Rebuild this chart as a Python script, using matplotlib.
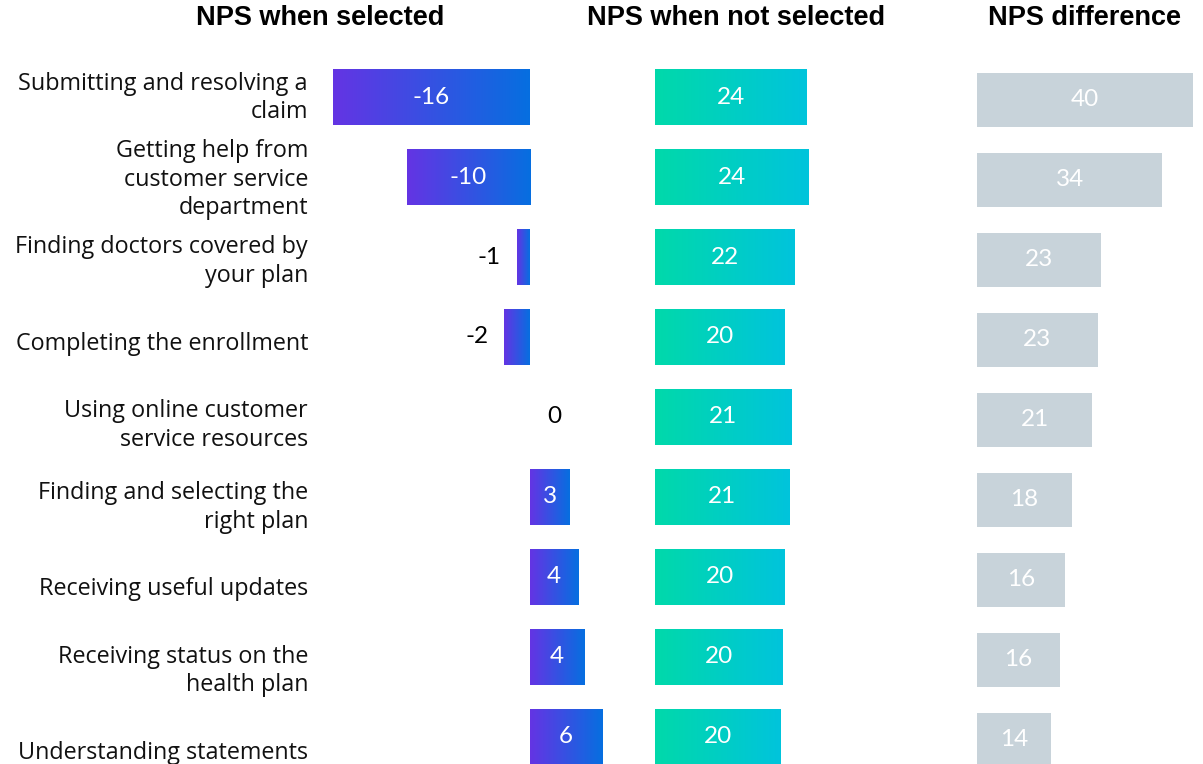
import matplotlib
matplotlib.use("Agg")
import matplotlib.pyplot as plt
import numpy as np
from matplotlib.transforms import blended_transform_factory
from matplotlib.colors import LinearSegmentedColormap

# Data
categories = [
    "Submitting and resolving a\nclaim",
    "Getting help from\ncustomer service\ndepartment",
    "Finding doctors covered by\nyour plan",
    "Completing the enrollment",
    "Using online customer\nservice resources",
    "Finding and selecting the\nright plan",
    "Receiving useful updates",
    "Receiving status on the\nhealth plan",
    "Understanding statements",
]
nps_selected = [-16.0, -10.0, -1.05, -2.1, 0.0, 3.2, 3.9, 4.4, 5.85]
nps_not_selected = [24.0, 24.4, 22.2, 20.5, 21.6, 21.3, 20.6, 20.3, 20.0]
nps_difference = [40.0, 34.3, 23.0, 22.4, 21.3, 17.6, 16.3, 15.4, 13.7]

selected_labels = ["-16", "-10", "-1", "-2", "0", "3", "4", "4", "6"]
not_selected_labels = ["24", "24", "22", "20", "21", "21", "20", "20", "20"]
difference_labels = ["40", "34", "23", "23", "21", "18", "16", "16", "14"]

titles = ["NPS when selected", "NPS when not selected", "NPS difference"]

W, H = 1203, 764
fig = plt.figure(figsize=(W / 100, H / 100), dpi=100)

label_font = ["Open Sans", "DejaVu Sans"]
value_font = ["Lato", "DejaVu Sans"]
title_font = ["Liberation Sans Narrow", "Liberation Sans", "DejaVu Sans"]
value_size = 17.5

row_ylim = ((H - 97) / 80, -97 / 80)
y = np.arange(len(categories))


def make_axes(x0, x1, xlim):
    ax = fig.add_axes([x0 / W, 0, (x1 - x0) / W, 1])
    ax.set_xlim(*xlim)
    ax.set_ylim(*row_ylim)
    ax.axis("off")
    return ax


def gradient_bars(ax, bars, c0, c1):
    # paint each bar with a left-to-right colour gradient
    cmap = LinearSegmentedColormap.from_list("g", [c0, c1])
    grad = np.linspace(0, 1, 256).reshape(1, -1)
    for bar in bars:
        w = bar.get_width()
        if w == 0:
            continue
        x0 = bar.get_x()
        y0 = bar.get_y()
        h = bar.get_height()
        left, right = min(x0, x0 + w), max(x0, x0 + w)
        ax.imshow(grad, cmap=cmap, aspect="auto", extent=(left, right, y0 + h, y0),
                  zorder=3, interpolation="bicubic")
        bar.set_visible(False)


# Left panel: NPS when selected
xlim1 = (-210 / 12.31, 90 / 12.31)
ax1 = make_axes(320, 620, xlim1)
bars1 = ax1.barh(y, nps_selected, height=0.69, color="#6236e3")
gradient_bars(ax1, bars1, "#6434e4", "#066fe0")
ax1.set_xlim(*xlim1)
ax1.set_ylim(*row_ylim)
for yi, v, lab in zip(y, nps_selected, selected_labels):
    if abs(v) >= 3:
        ax1.text(v / 2, yi, lab, ha="center", va="center", color="white",
                 fontsize=value_size, family=value_font, zorder=5)
    elif v < 0:
        ax1.text(v - 1.3, yi, lab, ha="right", va="center", color="black",
                 fontsize=value_size, family=value_font, zorder=5)
    else:
        ax1.text(1.95, yi, lab, ha="center", va="center", color="black",
                 fontsize=value_size, family=value_font, zorder=5)

# Middle panel: NPS when not selected
xlim2 = (0, 225 / 6.3)
ax2 = make_axes(655, 880, xlim2)
bars2 = ax2.barh(y, nps_not_selected, height=0.69, color="#00d0c0")
gradient_bars(ax2, bars2, "#00d9aa", "#00c4dc")
ax2.set_xlim(*xlim2)
ax2.set_ylim(*row_ylim)
for yi, v, lab in zip(y, nps_not_selected, not_selected_labels):
    ax2.text(v / 2, yi, lab, ha="center", va="center", color="white",
             fontsize=value_size, family=value_font, zorder=5)

# Right panel: NPS difference
ax3 = make_axes(977, 1203, (0, 226 / 5.4))
ax3.barh(y + 0.0375, nps_difference, height=0.675, color="#c8d3da", zorder=3)
for yi, v, lab in zip(y, nps_difference, difference_labels):
    ax3.text(v / 2, yi + 0.0375, lab, ha="center", va="center", color="white",
             fontsize=value_size, family=value_font, zorder=5)

# Category labels, right aligned to the left of the first panel
trans = blended_transform_factory(fig.transFigure, ax1.transData)
for i, cat in enumerate(categories):
    ax1.text(308 / W, i + 0.01 + 0.024 * i, cat, transform=trans, ha="right",
             va="center", fontsize=16.8, family=label_font, color="#111111",
             linespacing=1.25, clip_on=False)

# Panel titles
for x, t in zip([320, 736, 1085], titles):
    fig.text(x / W, 1 - 18 / H, t, ha="center", va="center", fontsize=19.5,
             fontweight="bold", family=title_font, color="black")

fig.savefig("out.png", dpi=100)
